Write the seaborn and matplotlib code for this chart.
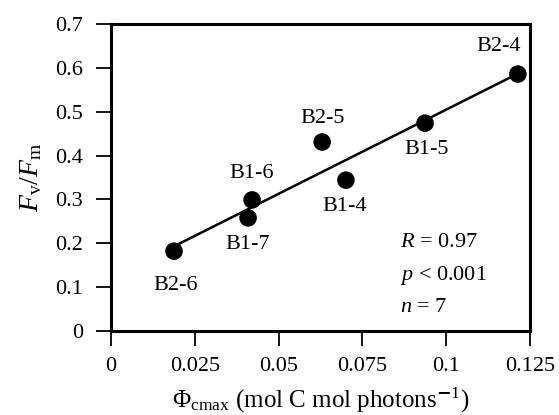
import numpy as np
import pandas as pd
import seaborn as sns
import matplotlib.pyplot as plt

# data
samples = ["B2-6", "B1-7", "B1-6", "B2-5", "B1-4", "B1-5", "B2-4"]
phi_cmax = [0.0188, 0.0409, 0.0421, 0.0630, 0.0701, 0.0937, 0.1214]
fv_fm = [0.182, 0.258, 0.299, 0.431, 0.344, 0.474, 0.586]
# label offsets in points (dx, dy)
label_offsets = [(1, -25), (0, -19), (0, 19), (0, 17), (-1, -19), (1, -19), (-14, 20)]

x_ticks = [0, 0.025, 0.05, 0.075, 0.1, 0.125]
x_ticklabels = ["0", "0.025", "0.05", "0.075", "0.1", "0.125"]
y_ticks = [0, 0.1, 0.2, 0.3, 0.4, 0.5, 0.6, 0.7]
y_ticklabels = ["0", "0.1", "0.2", "0.3", "0.4", "0.5", "0.6", "0.7"]

df = pd.DataFrame({"sample": samples, "phi": phi_cmax, "fvfm": fv_fm})

sns.set_style("ticks")
plt.rcParams["font.family"] = ["Liberation Serif", "DejaVu Serif"]
plt.rcParams["mathtext.fontset"] = "custom"
plt.rcParams["mathtext.rm"] = "Liberation Serif"
plt.rcParams["mathtext.it"] = "Liberation Serif:italic"
plt.rcParams["text.color"] = "black"
plt.rcParams["axes.labelcolor"] = "black"

fs = 16

fig = plt.figure(figsize=(5.59, 4.15), dpi=100)
ax = fig.add_axes([0.1986, 0.2024, 0.7494, 0.7396])

sns.regplot(data=df, x="phi", y="fvfm", ci=None, truncate=True, ax=ax,
            scatter_kws=dict(s=160, color="black", alpha=1, edgecolor="none", zorder=3),
            line_kws=dict(color="black", lw=1.8))

for name, x, y, off in zip(samples, phi_cmax, fv_fm, label_offsets):
    ax.annotate(name, (x, y), xytext=off, textcoords="offset points",
                ha="center", va="center", fontsize=fs)

ax.text(0.69, 0.287, "$R$ = 0.97", transform=ax.transAxes, fontsize=fs, va="center")
ax.text(0.69, 0.180, "$p$ < 0.001", transform=ax.transAxes, fontsize=fs, va="center")
ax.text(0.69, 0.078, "$n$ = 7", transform=ax.transAxes, fontsize=fs, va="center")

ax.set_xlim(0, 0.125)
ax.set_ylim(0, 0.7)
ax.set_xticks(x_ticks)
ax.set_xticklabels(x_ticklabels, fontsize=fs)
ax.set_yticks(y_ticks)
ax.set_yticklabels(y_ticklabels, fontsize=fs)
ax.tick_params(axis="x", direction="out", length=11, width=1.3, pad=8,
               labelsize=fs, colors="black")
ax.tick_params(axis="y", direction="out", length=11, width=1.3, pad=9,
               labelsize=fs, colors="black")
for sp in ax.spines.values():
    sp.set_visible(True)
    sp.set_linewidth(2.2)
    sp.set_color("black")

ax.set_xlabel(r"$\Phi_\mathrm{cmax}$ (mol C mol photons$^{\mathbf{-}1}$)", fontsize=18, labelpad=7)
ax.set_ylabel(r"$F_\mathrm{v}/F_\mathrm{m}$", fontsize=20, labelpad=8)

fig.savefig("out.png", dpi=100)
